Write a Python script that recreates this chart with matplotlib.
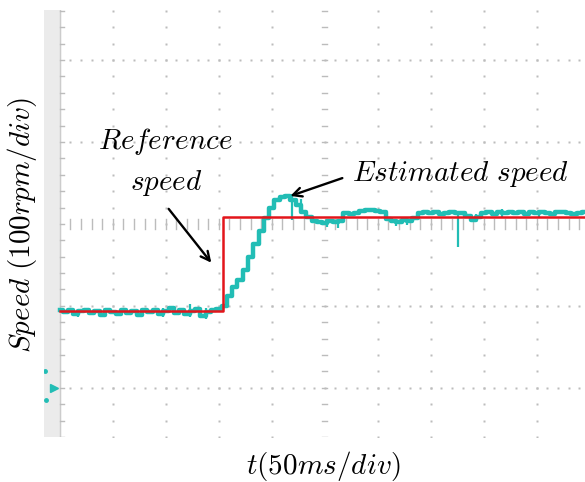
import numpy as np
import matplotlib
matplotlib.use("Agg")
import matplotlib.pyplot as plt

plt.rcParams['mathtext.fontset'] = 'cm'

# ---- data (in screen divisions) ----
ref_x = [0.0, 3.07, 3.07, 9.91]
ref_y = [-1.06, -1.06, 0.09, 0.09]

est_x = [round(0.1 * i, 1) for i in range(100)]
est_y = [
    -1.05, -1.08, -1.05, -1.10, -1.06, -1.05, -1.09, -1.06, -1.11, -1.05,
    -1.07, -1.10, -1.05, -1.09, -1.06, -1.11, -1.05, -1.08, -1.05, -1.10,
    -1.06, -1.03, -1.09, -1.05, -1.10, -1.06, -1.04, -1.12, -1.07, -1.05,
    -1.04, -1.00, -0.88, -0.77, -0.68, -0.56, -0.40, -0.25, -0.09, 0.07,
    0.20, 0.29, 0.33, 0.34, 0.29, 0.23, 0.15, 0.08, 0.04, 0.02,
    0.01, 0.03, 0.02, 0.04, 0.13, 0.12, 0.13, 0.16, 0.17, 0.17,
    0.16, 0.14, 0.06, 0.04, 0.02, 0.05, 0.03, 0.07, 0.13, 0.14,
    0.13, 0.14, 0.12, 0.13, 0.14, 0.13, 0.13, 0.10, 0.05, 0.08,
    0.13, 0.14, 0.12, 0.14, 0.13, 0.15, 0.13, 0.14, 0.12, 0.15,
    0.13, 0.14, 0.13, 0.12, 0.15, 0.14, 0.13, 0.12, 0.13, 0.14,
]
# short noise spikes on the estimated trace: x, low, high
spike_x = [0.35, 0.85, 1.55, 1.95, 2.45, 2.75, 4.38, 4.55, 5.05, 5.25,
           6.35, 6.55, 7.51, 7.85, 8.35, 9.05]
spike_lo = [-1.14, -1.13, -1.14, -1.13, -1.13, -1.16, 0.05, 0.12, -0.04, -0.05,
            -0.03, -0.01, -0.28, 0.02, 0.08, 0.08]
spike_hi = [-1.04, -1.03, -1.02, -1.03, -0.98, -1.03, 0.36, 0.30, 0.05, 0.06,
            0.06, 0.06, 0.14, 0.12, 0.18, 0.17]

marker_x = [-0.12, -0.28, -0.27]
marker_y = [-2.0, -1.8, -2.15]

X_MIN, X_MAX = -0.30, 9.91
Y_MIN, Y_MAX = -2.60, 2.61

fig = plt.figure(figsize=(5.85, 4.82), dpi=100)
ax = fig.add_axes([44 / 585, 45 / 482, 541 / 585, 427 / 482])
ax.set_xlim(X_MIN, X_MAX)
ax.set_ylim(Y_MIN, Y_MAX)
ax.axis('off')

grid_c = '#bcbcbc'
# gray side bar
ax.axvspan(X_MIN, 0.0, color='#ebebeb', zorder=0)
# left axis
ax.plot([0, 0], [Y_MIN, Y_MAX], color='#cccccc', lw=1, zorder=1)
minor_y = np.arange(-2.6, 2.61, 0.2)
minor_x = np.arange(0.2, 9.81, 0.2)
for yy in minor_y:
    ax.plot([0, 0.08], [yy, yy], color=grid_c, lw=1, zorder=1)
# vertical major grid (dotted)
for xx in range(1, 10):
    if xx == 5:
        for yy in minor_y:
            ax.plot([xx - 0.05, xx + 0.05], [yy, yy], color=grid_c, lw=1, zorder=1)
    else:
        ax.plot([xx] * len(minor_y), minor_y, ls='none', marker='s', ms=1.5,
                color=grid_c, mec='none', zorder=1)
# horizontal major grid
for yy in [-2, -1, 0, 1, 2]:
    if yy == 0:
        for xx in minor_x:
            ax.plot([xx, xx], [-0.06, 0.06], color=grid_c, lw=1, zorder=1)
    else:
        ax.plot(minor_x, [yy] * len(minor_x), ls='none', marker='s', ms=1.5,
                color=grid_c, mec='none', zorder=1)

cyan = '#22bdb5'
ax.plot(est_x, est_y, drawstyle='steps-mid', color=cyan, lw=3.2, zorder=3)
ax.vlines(spike_x, spike_lo, spike_hi, color=cyan, lw=1.6, zorder=3)
ax.plot(marker_x[:1], marker_y[:1], marker='>', ms=6, color=cyan, ls='none', zorder=3)
ax.plot(marker_x[1:], marker_y[1:], marker='o', ms=2.5, color=cyan, ls='none', zorder=3)

ax.plot(ref_x, ref_y, color='#e3151b', lw=1.8, zorder=4)

fs = 21
ax.text(2.0, 1.0, r'$Reference$', fontsize=fs, ha='center', va='center')
ax.text(2.0, 0.50, r'$speed$', fontsize=fs, ha='center', va='center')
ax.text(7.57, 0.61, r'$Estimated\ speed$', fontsize=fs, ha='center', va='center')
ax.annotate('', xy=(2.89, -0.50), xytext=(2.02, 0.21),
            arrowprops=dict(arrowstyle='->', color='black', lw=1.7,
                            mutation_scale=16), zorder=5)
ax.annotate('', xy=(4.30, 0.33), xytext=(5.38, 0.57),
            arrowprops=dict(arrowstyle='->', color='black', lw=1.7,
                            mutation_scale=16), zorder=5)

fig.text(22 / 585, 1 - 225 / 482, r'$Speed\ (100rpm/div)$', fontsize=21,
         rotation=90, ha='center', va='center')
fig.text(323 / 585, 1 - 466 / 482, r'$t(50ms/div)$', fontsize=fs,
         ha='center', va='center')

fig.savefig('out.png', dpi=100)
